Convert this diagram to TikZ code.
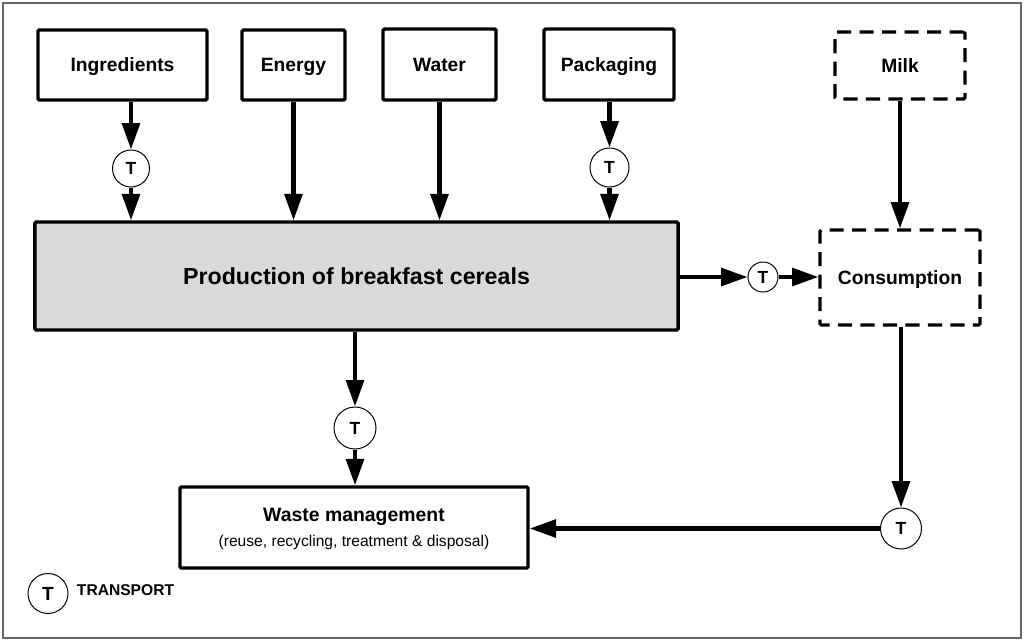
\documentclass[tikz,border=0pt]{standalone}
\usepackage{fontspec}
\setmainfont{Liberation Sans}
\usetikzlibrary{arrows.meta}
\begin{document}
\begin{tikzpicture}[x=0.025cm, y=-0.025cm, >={Triangle[length=0.66cm, width=0.44cm]},
  caixa/.style={draw, rectangle, line width=2.4pt, rounded corners=1pt, align=center, text depth=0pt, font=\fontsize{13.7}{16}\selectfont\bfseries},
  tracejada/.style={caixa, line width=2.2pt, dash pattern=on 10pt off 6pt},
  transp/.style={draw, circle, line width=0.7pt, inner sep=0pt, minimum size=#1, font=\fontsize{12.5}{14}\selectfont\bfseries},
  fluxo/.style={->, line width=3pt}]
\useasboundingbox (0,0) rectangle (1027,641);
\draw[black!60, line width=0.8pt] (3,3) rectangle (1021,638);
% Entradas
\node[caixa, minimum width=4.225cm, minimum height=1.75cm] (ingr) at (122.5,65) {Ingredients};
\node[caixa, minimum width=2.575cm, minimum height=1.75cm] (energ) at (293.5,65) {Energy};
\node[caixa, minimum width=2.825cm, minimum height=1.775cm] (water) at (439.5,64.5) {Water};
\node[caixa, minimum width=3.25cm, minimum height=1.775cm] (pack) at (609,64.5) {Packaging};
\node[tracejada, minimum width=3.25cm, minimum height=1.675cm] (milk) at (900,65.5) {Milk};
% Produção e consumo
\node[caixa, fill=black!15, minimum width=16.075cm, minimum height=2.7cm, font=\fontsize{16.5}{19}\selectfont\bfseries] (prod) at (356.5,276) {Production of breakfast cereals};
\node[tracejada, minimum width=4cm, minimum height=2.375cm] (cons) at (900,277.5) {Consumption};
\node[caixa, minimum width=8.7cm, minimum height=2.025cm, font=\fontsize{13.8}{16}\selectfont\bfseries] (waste) at (354,527.5) {Waste management\\[1.5pt]{\fontsize{11.1}{13}\selectfont\mdseries (reuse, recycling, treatment \& disposal)}};
% Transporte
\node[transp=0.925cm] (t1) at (131,168.5) {T};
\node[transp=0.975cm] (t2) at (609.5,167.5) {T};
\node[transp=1.05cm] (t3) at (355,428) {T};
\node[transp=0.75cm] (t4) at (763,277) {T};
\node[transp=1.025cm] (t5) at (901,528.5) {T};
% Setas
\draw[fluxo] (ingr.south -| t1) -- (t1);
\draw[fluxo] (t1) -- (t1 |- prod.north);
\draw[fluxo] (energ.south) -- (energ.south |- prod.north);
\draw[fluxo] (water.south) -- (water.south |- prod.north);
\draw[fluxo] (pack.south -| t2) -- (t2);
\draw[fluxo] (t2) -- (t2 |- prod.north);
\draw[fluxo] (milk.south) -- (milk.south |- cons.north);
\draw[fluxo] (prod.east |- t4) -- (t4);
\draw[fluxo] (t4) -- (t4 -| cons.west);
\draw[fluxo] (prod.south -| t3) -- (t3);
\draw[fluxo] (t3) -- (t3 |- waste.north);
\draw[fluxo] (cons.south -| t5) -- (t5);
\draw[fluxo] (t5) -- (t5 -| waste.east);
% Legenda
\node[transp=1cm, font=\fontsize{13.5}{15}\selectfont\bfseries] (leg) at (48,593.5) {T};
\node[anchor=base west, font=\fontsize{11.1}{13}\selectfont\bfseries] (legtxt) at (72,595) {TRANSPORT};
\end{tikzpicture}
\end{document}
